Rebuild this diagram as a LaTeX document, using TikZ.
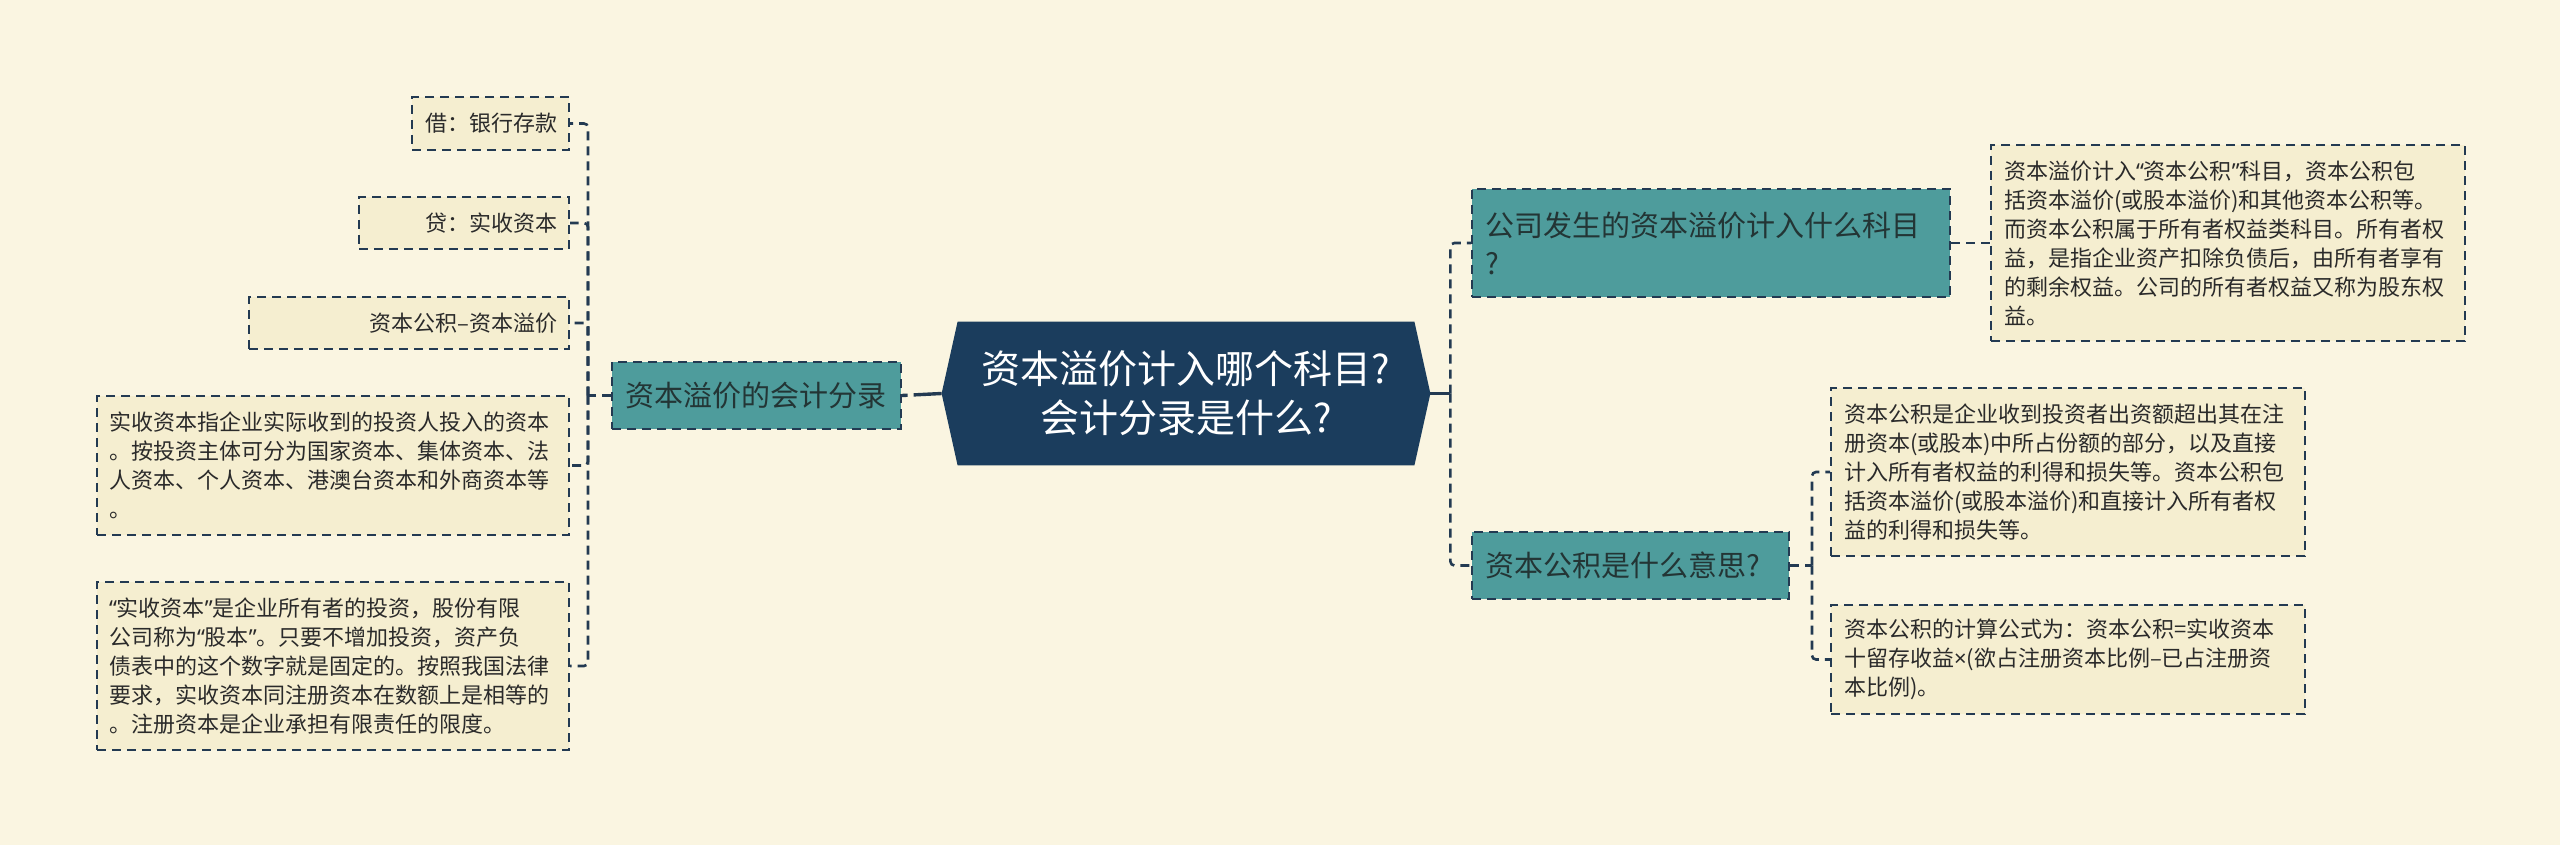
\documentclass[tikz,border=0pt]{standalone}
\usepackage{fontspec}
\setmainfont{Noto Sans CJK SC}
\newfontfamily\myqfont{Noto Sans}
\newcommand\myqo{{\myqfont “}}
\newcommand\myqc{{\myqfont ”}}
\newcommand\mytimes{{\myqfont ×}}
\definecolor{bgc}{HTML}{FAF5E1}
\definecolor{leafc}{HTML}{F5EED0}
\definecolor{tealc}{HTML}{4E9C9C}
\definecolor{navyc}{HTML}{1B3D5D}
\definecolor{linec}{HTML}{233A52}
\definecolor{textc}{HTML}{2A2A2A}
\definecolor{tealtext}{HTML}{233535}
\begin{document}
\begin{tikzpicture}[x=0.5pt,y=-0.5pt,
  conn/.style={draw=linec, line width=1.3pt, dash pattern=on 4.5pt off 3pt, rounded corners=2pt},
  rootconn/.style={draw=linec, line width=1.7pt, dash pattern=on 14pt off 3pt},
  boxbase/.style={draw=linec, line width=1pt, dash pattern=on 4.5pt off 3pt, anchor=north west, inner ysep=0pt},
  leaf/.style={boxbase, fill=leafc, text=textc, font=\fontsize{11}{14.5}\selectfont, inner xsep=6pt},
  longleaf/.style={leaf, minimum width=236pt, text width=224pt, align=left},
  shortleaf/.style={leaf, minimum height=26pt, align=right},
  branch/.style={boxbase, fill=tealc, text=tealtext, font=\fontsize{14.5}{19}\selectfont, inner xsep=6.5pt, align=left},
  roottext/.style={text=white, font=\fontsize{19.5}{24.5}\selectfont, align=center, inner sep=0pt}
]
\fill[bgc] (0,0) rectangle (2560,845);
\useasboundingbox (0,0) rectangle (2560,845);

% root
\node[minimum width=244pt, minimum height=71.5pt, inner sep=0pt, draw=none] (root) at (1186,393.5) {};
\fill[navyc] (root.west) -- ([xshift=8pt]root.north west) -- ([xshift=-8pt]root.north east) -- (root.east)
  -- ([xshift=-8pt]root.south east) -- ([xshift=8pt]root.south west) -- cycle;
\node[roottext] (roottxt) at (root) {资本溢价计入哪个科目?\\会计分录是什么?};

% left branch
\node[branch, minimum width=144.5pt, minimum height=33.5pt, text width=131.5pt] (lb) at (611,361) {资本溢价的会计分录};

% left leaves
\node[shortleaf, minimum width=78.5pt, text width=66.5pt, minimum height=26.5pt] (l1) at (411,96) {借：银行存款};
\node[shortleaf, minimum width=105pt, text width=93pt] (l2) at (358,196) {贷：实收资本};
\node[shortleaf, minimum width=160pt, text width=148pt] (l3) at (248,296) {资本公积–资本溢价};
\node[longleaf, minimum height=69.5pt] (l4) at (96,395) {实收资本指企业实际收到的投资人投入的资本\\。按投资主体可分为国家资本、集体资本、法\\人资本、个人资本、港澳台资本和外商资本等\\。};
\node[longleaf, minimum height=84pt] (l5) at (96,581) {\myqo 实收资本\myqc 是企业所有者的投资，股份有限\\公司称为\myqo 股本\myqc 。只要不增加投资，资产负\\债表中的这个数字就是固定的。按照我国法律\\要求，实收资本同注册资本在数额上是相等的\\。注册资本是企业承担有限责任的限度。};

% right branches
\node[branch, minimum width=239pt, minimum height=54pt, text width=226pt] (rb1) at (1471,188) {公司发生的资本溢价计入什么科目\\?};
\node[branch, minimum width=158.5pt, minimum height=33.5pt, text width=145.5pt] (rb2) at (1471,531) {资本公积是什么意思?};

% right leaves
\node[longleaf, minimum width=237pt, minimum height=98pt] (r1) at (1990,144) {资本溢价计入\myqo 资本公积\myqc 科目，资本公积包\\括资本溢价(或股本溢价)和其他资本公积等。\\而资本公积属于所有者权益类科目。所有者权\\益，是指企业资产扣除负债后，由所有者享有\\的剩余权益。公司的所有者权益又称为股东权\\益。};
\node[longleaf, minimum width=237pt, minimum height=84pt] (r2) at (1830,387) {资本公积是企业收到投资者出资额超出其在注\\册资本(或股本)中所占份额的部分，以及直接\\计入所有者权益的利得和损失等。资本公积包\\括资本溢价(或股本溢价)和直接计入所有者权\\益的利得和损失等。};
\node[longleaf, minimum width=237pt, minimum height=54.5pt] (r3) at (1830,604) {资本公积的计算公式为：资本公积=实收资本\\十留存收益\mytimes(欲占注册资本比例–已占注册资\\本比例)。};

% connectors
\draw[rootconn] (root.west) -- (lb.east);
\coordinate (rj) at ([xshift=10pt]root.east);
\draw[draw=linec, line width=1.3pt] (root.east) -- (rj);
\draw[conn] (rj) |- (rb1.west);
\draw[conn] (rj) |- (rb2.west);
\coordinate (lj) at ([xshift=-11.5pt]lb.west);
\draw[conn] (lb.west) -- (lj);
\foreach \n in {l1,l2,l3,l4,l5} \draw[conn] (lj) |- (\n.east);
\draw[conn] (rb1.east) -- (r1.west);
\coordinate (rj2) at ([xshift=11pt]rb2.east);
\draw[conn] (rb2.east) -- (rj2);
\draw[conn] (rj2) |- (r2.west);
\draw[conn] (rj2) |- (r3.west);
\end{tikzpicture}
\end{document}
